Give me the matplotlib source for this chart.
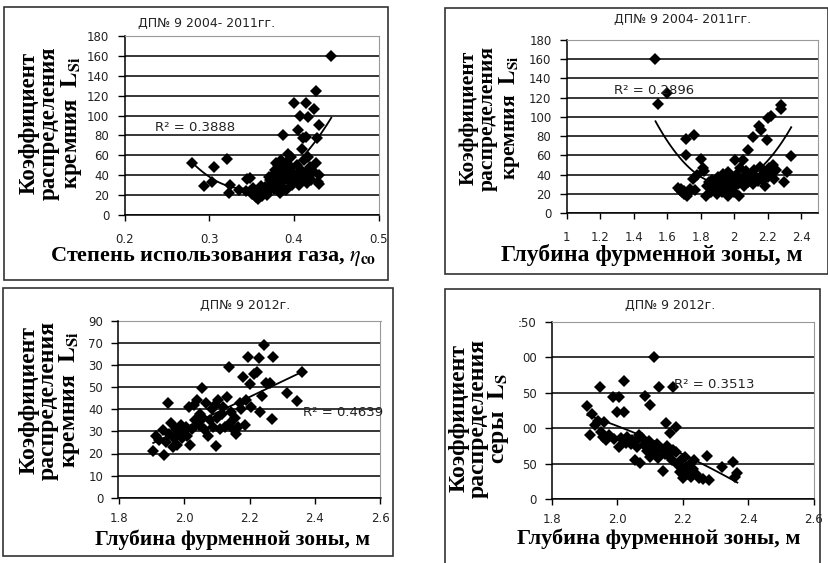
import matplotlib.pyplot as plt
import numpy as np

W, H = 829, 563
plt.rcParams['mathtext.fontset'] = 'stix'

# --- panel 1: LSi vs gas utilisation, 2004-2011 ---
p1_x = [0.279, 0.294, 0.303, 0.305, 0.321, 0.323, 0.325, 0.335, 0.345, 0.348,
        0.343, 0.350, 0.352, 0.355, 0.357, 0.358, 0.360, 0.362, 0.364, 0.366,
        0.368, 0.370, 0.353, 0.361, 0.372, 0.372, 0.375, 0.377, 0.378, 0.380,
        0.381, 0.382, 0.384, 0.385, 0.386, 0.387, 0.388, 0.389, 0.390, 0.391,
        0.392, 0.393, 0.394, 0.395, 0.396, 0.397, 0.398, 0.399, 0.383, 0.376,
        0.379, 0.374, 0.371, 0.400, 0.401, 0.403, 0.404, 0.405, 0.406, 0.407,
        0.408, 0.409, 0.410, 0.411, 0.412, 0.413, 0.414, 0.414, 0.415, 0.416,
        0.417, 0.418, 0.419, 0.420, 0.422, 0.424, 0.426, 0.426, 0.427, 0.428,
        0.429, 0.429, 0.430, 0.444]
p1_y = [52, 29, 33, 48, 56, 22, 30, 25, 36, 37,
        24, 21, 27, 18, 16, 22, 25, 19, 23, 28,
        20, 24, 25, 29, 30, 35, 40, 30, 45, 38,
        50, 33, 42, 55, 28, 80, 47, 36, 52, 25,
        44, 61, 39, 33, 58, 48, 30, 42, 22, 26,
        52, 32, 38, 113, 36, 50, 40, 85, 30, 100,
        45, 66, 35, 77, 55, 42, 113, 78, 32, 58,
        99, 38, 48, 35, 44, 107, 125, 52, 77, 33,
        90, 31, 40, 160]

# --- panel 2: LSi vs tuyere zone depth, 2004-2011 ---
p2_x = [1.530, 1.545, 1.600, 1.664, 1.675, 1.680, 1.690, 1.700, 1.700, 1.715,
        1.715, 1.720, 1.730, 1.735, 1.754, 1.760, 1.765, 1.780, 1.800, 1.815,
        1.820, 1.830, 1.835, 1.850, 1.860, 1.870, 1.880, 1.890, 1.900, 1.905,
        1.910, 1.920, 1.925, 1.930, 1.940, 1.950, 1.955, 1.960, 1.965, 1.970,
        1.980, 1.985, 1.990, 2.000, 2.002, 2.010, 2.020, 2.030, 2.035, 2.040,
        2.050, 2.055, 2.060, 2.070, 2.081, 2.085, 2.090, 2.100, 2.110, 2.115,
        2.120, 2.130, 2.140, 2.150, 2.155, 2.160, 2.165, 2.170, 2.180, 2.185,
        2.194, 2.200, 2.204, 2.210, 2.220, 2.225, 2.230, 2.240, 2.250, 2.280,
        2.280, 2.300, 2.316, 2.340]
p2_y = [160, 113, 125, 26, 24, 25, 22, 20, 23, 77,
        60, 18, 22, 25, 36, 81, 24, 40, 56, 47,
        44, 18, 28, 32, 22, 35, 26, 30, 20, 38,
        27, 33, 22, 41, 29, 36, 24, 18, 43, 31,
        38, 26, 35, 22, 55, 40, 30, 18, 47, 34,
        55, 38, 28, 44, 66, 32, 40, 36, 79, 30,
        45, 38, 33, 91, 48, 86, 40, 35, 44, 28,
        76, 38, 99, 47, 101, 42, 50, 36, 45, 112,
        108, 32, 43, 59]

# --- panel 3: LSi vs tuyere zone depth, 2012 ---
p3_x = [1.906, 1.915, 1.925, 1.937, 1.939, 1.945, 1.952, 1.955, 1.960, 1.965,
        1.970, 1.975, 1.980, 1.985, 1.990, 1.995, 2.000, 2.005, 2.010, 2.015,
        2.018, 2.025, 2.030, 2.035, 2.040, 2.045, 2.050, 2.054, 2.058, 2.062,
        2.068, 2.072, 2.078, 2.085, 2.090, 2.095, 2.097, 2.100, 2.105, 2.110,
        2.115, 2.120, 2.125, 2.130, 2.137, 2.140, 2.145, 2.150, 2.155, 2.160,
        2.165, 2.170, 2.175, 2.180, 2.185, 2.190, 2.194, 2.200, 2.205, 2.215,
        2.222, 2.228, 2.231, 2.238, 2.244, 2.250, 2.262, 2.269, 2.272, 2.313,
        2.346, 2.360]
p3_y = [21, 28, 26, 30.5, 19.5, 25, 43, 29, 34, 23,
        27, 31, 24, 29, 33, 27, 30, 32, 28, 41,
        24, 31, 42, 35, 44, 33, 38, 49.5, 36, 31,
        43, 28, 35, 40, 32, 42, 23.5, 36, 44, 31,
        38, 41, 32, 45.5, 59, 34, 39, 31, 36, 29,
        32, 43, 40, 54.8, 33, 44, 63.5, 51.3, 41, 56,
        57, 63, 38.9, 46, 69, 52, 52, 35.6, 63.5, 47.5,
        43.8, 56.7]

# --- panel 4: LS vs tuyere zone depth, 2012 ---
p4_x = [1.908, 1.916, 1.922, 1.930, 1.941, 1.947, 1.950, 1.955, 1.960, 1.965,
        1.975, 1.985, 1.990, 2.000, 2.004, 2.005, 2.010, 2.020, 2.021, 2.025,
        2.030, 2.040, 2.045, 2.053, 2.055, 2.060, 2.065, 2.069, 2.075, 2.080,
        2.084, 2.090, 2.095, 2.099, 2.100, 2.105, 2.110, 2.115, 2.120, 2.125,
        2.128, 2.135, 2.140, 2.145, 2.148, 2.150, 2.155, 2.160, 2.165, 2.168,
        2.170, 2.179, 2.180, 2.185, 2.190, 2.195, 2.200, 2.205, 2.210, 2.215,
        2.220, 2.225, 2.230, 2.235, 2.240, 2.250, 2.260, 2.274, 2.280, 2.318,
        2.352, 2.360, 2.366]
p4_y = [132, 90, 120, 105, 110, 158, 95, 88, 109, 84,
        90, 143.6, 85, 123, 144, 73, 86, 167, 122.5, 80,
        88, 78, 84, 55, 82, 74, 90, 51, 86, 76,
        145.5, 68, 82, 133, 60, 72, 201, 66, 78, 58,
        158, 70, 40, 64, 107, 75, 62, 93, 55, 158,
        70, 102, 66, 48, 38, 56, 30, 60, 45, 36,
        50, 32, 42, 55, 35, 30, 28, 61, 27, 46,
        53, 32, 37.5]

ticks_18 = ['1.8', '2.0', '2.2', '2.4', '2.6']
p1_xticks = ['0.2', '0.3', '0.4', '0.5']
p2_xticks = ['1', '1.2', '1.4', '1.6', '1.8', '2', '2.2', '2.4']
p1_yticks = ['0', '20', '40', '60', '80', '100', '120', '140', '160', '180']
p3_yticks = ['0', '10', '20', '30', '40', '50', '30', '70', '90']
p4_yticks = ['0', '50', '00', '50', '00', ':50']

fig = plt.figure(figsize=(W / 100, H / 100), dpi=100)
serif = 'Liberation Serif'


def fx(x):
    return x / W


def fy(y):
    return 1 - y / H


def frame(x0, y0, x1, y1):
    fig.add_artist(plt.Rectangle((fx(x0), fy(y1)), (x1 - x0) / W, (y1 - y0) / H,
                                 fill=False, ec='#333333', lw=1.2,
                                 transform=fig.transFigure))


def panel(box, x, y, deg, xlim, xticks, xlabels, ylim, yticks, ylabels, r2, r2pos,
          xpad=9):
    x0, y0, x1, y1 = box
    ax = fig.add_axes([fx(x0), fy(y1), (x1 - x0) / W, (y1 - y0) / H])
    ax.plot(x, y, 'D', color='black', ms=6, mew=0)
    coef = np.polyfit(x, y, deg)
    xs = np.linspace(min(x), max(x), 100)
    ax.plot(xs, np.polyval(coef, xs), color='black', lw=1.3)
    ax.set_xlim(*xlim)
    ax.set_ylim(*ylim)
    ax.set_xticks(xticks)
    ax.set_xticklabels(xlabels)
    ax.set_yticks(yticks)
    ax.set_yticklabels(ylabels)
    ax.grid(axis='y', color='black', lw=1.1)
    ax.set_axisbelow(True)
    for s in ['top', 'right']:
        ax.spines[s].set_color('#999999')
        ax.spines[s].set_linewidth(0.8)
    for s in ['left', 'bottom']:
        ax.spines[s].set_color('black')
        ax.spines[s].set_linewidth(1.1)
    ax.tick_params(axis='x', direction='out', length=4, width=1, pad=xpad,
                   labelsize=8.5, labelcolor='#222222')
    ax.tick_params(axis='y', direction='out', length=5, width=1, pad=6,
                   labelsize=8.5, labelcolor='#222222')
    ax.text(r2pos[0], r2pos[1], r2, fontsize=9.5, color='#222222',
            ha='left', va='center')
    return ax


def ylabel(cx, cy, last, size, ls=0.95):
    fig.text(fx(cx), fy(cy), 'Коэффициент\nраспределения\n' + last,
             rotation=90, ha='center', va='center', multialignment='center',
             fontsize=size, fontweight='bold', family=serif, linespacing=ls)


def xlabel(cx, cy, s, size):
    fig.text(fx(cx), fy(cy), s, ha='center', va='center', fontsize=size,
             fontweight='bold', family=serif)


def title(cx, cy, s):
    fig.text(fx(cx), fy(cy), s, ha='center', va='center', fontsize=9,
             color='#222222')


# frames
frame(4, 7, 388, 280)
frame(445, 8, 828, 274)
frame(3, 288, 393, 556)
frame(445, 289, 820, 570)

lsi = 'кремния  $\\mathbf{L}_{\\mathbf{Si}}$'

panel((124.6, 36, 378.7, 215), p1_x, p1_y, 2, (0.2, 0.5), [0.2, 0.3, 0.4, 0.5],
      p1_xticks, (0, 180), range(0, 181, 20), p1_yticks, 'R² = 0.3888', (0.236, 88))
title(207, 23, 'ДП№ 9 2004- 2011гг.')
ylabel(51, 123, lsi, 16.5)
xlabel(213, 257, 'Степень использования газа, $\\eta_{\\mathbf{co}}$', 16)

panel((566.7, 39.7, 818, 213.3), p2_x, p2_y, 2, (1, 2.5), np.arange(1, 2.41, 0.2),
      p2_xticks, (0, 180), range(0, 181, 20), p1_yticks, 'R² = 0.2896', (1.283, 127))
title(683, 19, 'ДП№ 9 2004- 2011гг.')
ylabel(490, 118, lsi, 15.5)
xlabel(652, 255, 'Глубина фурменной зоны, м', 17)

panel((118.5, 320.9, 380.5, 497.7), p3_x, p3_y, 1, (1.8, 2.6), np.arange(1.8, 2.61, 0.2),
      ticks_18, (0, 80), range(0, 81, 10), p3_yticks, 'R² = 0.4639', (2.362, 38.4),
      xpad=6)
title(245, 305, 'ДП№ 9 2012г.')
ylabel(50, 400, lsi, 17, 0.9)
xlabel(233, 540, 'Глубина фурменной зоны, м', 15.5)

panel((552, 321.8, 814, 499.3), p4_x, p4_y, 2, (1.8, 2.6), np.arange(1.8, 2.61, 0.2),
      ticks_18, (0, 250), range(0, 251, 50), p4_yticks, 'R² = 0.3513', (2.173, 161),
      xpad=6)
title(670, 305, 'ДП№ 9 2012г.')
ylabel(480, 418, 'серы  $\\mathbf{L}_{\\mathbf{S}}$', 17, 0.85)
xlabel(659, 539, 'Глубина фурменной зоны, м', 16)

fig.savefig('out.png', dpi=100)
